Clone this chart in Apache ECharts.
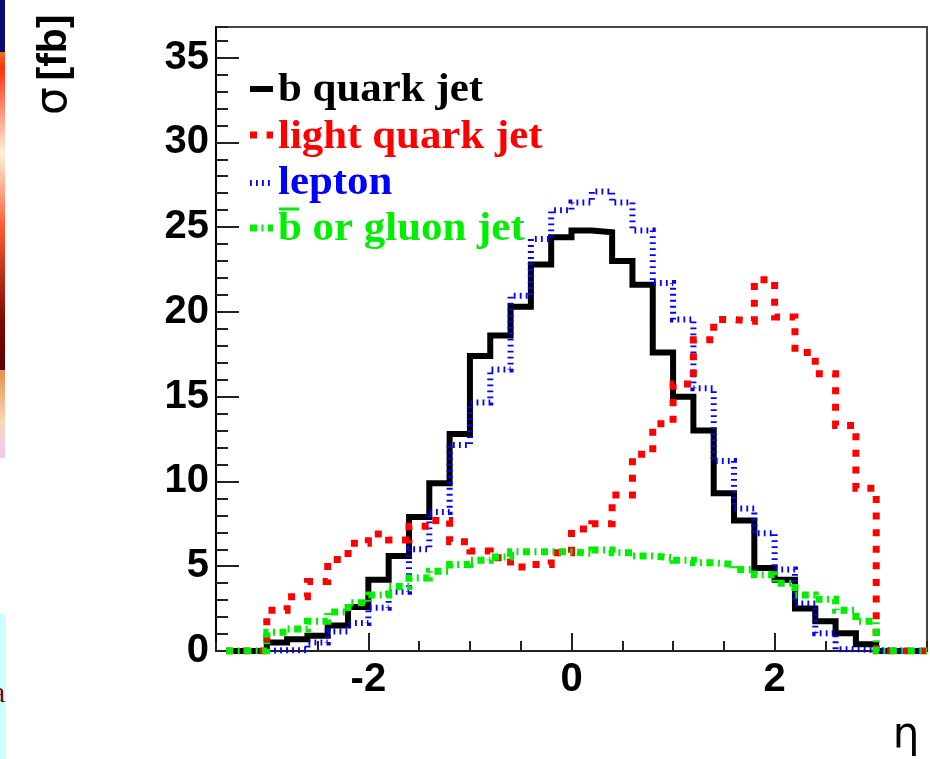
<!DOCTYPE html>
<html>
<head>
<meta charset="utf-8">
<title>Pseudorapidity distributions</title>
<script src="https://cdn.jsdelivr.net/npm/echarts@6.0.0/dist/echarts.min.js"></script>
<style>
  html, body { margin: 0; padding: 0; background: #ffffff; }
  #chart { width: 930px; height: 759px; }
</style>
</head>
<body>
<div id="chart"></div>
<script>
// Histogram bins in eta: lower edges, width 0.2, last bin closes at 3.0
const etaBinLow = [-3.0, -2.8, -2.6, -2.4, -2.2, -2.0, -1.8, -1.6, -1.4, -1.2,
                   -1.0, -0.8, -0.6, -0.4, -0.2, 0.0, 0.2, 0.4, 0.6, 0.8,
                   1.0, 1.2, 1.4, 1.6, 1.8, 2.0, 2.2, 2.4, 2.6, 2.8];
const etaUpper = 3.0;
// empty range drawn along the axis on both sides
const etaDrawFrom = -3.4;
const etaDrawTo = 3.5;

// cross sections per bin [fb]
const bQuarkJet = [0.5, 0.7, 0.9, 1.5, 2.6, 4.2, 5.6, 7.9, 9.9, 12.8,
                   17.4, 18.6, 20.3, 22.8, 24.4, 24.8, 24.7, 23.0, 21.6, 17.6,
                   15.0, 13.0, 9.3, 7.7, 4.9, 4.2, 2.5, 1.75, 1.05, 0.4];
const lightQuarkJet = [2.4, 3.2, 4.1, 5.4, 6.35, 6.9, 6.55, 7.35, 7.7, 6.45,
                       5.9, 5.5, 4.95, 5.1, 5.8, 7.2, 7.5, 9.2, 11.6, 13.4,
                       15.75, 18.35, 19.55, 19.45, 21.9, 19.7, 17.6, 16.35, 13.3, 9.6];
const lepton = [0.05, 0.05, 0.5, 1.15, 1.65, 2.55, 3.5, 6.0, 8.2, 12.15,
                14.65, 16.6, 20.95, 24.3, 26.0, 26.45, 27.1, 26.45, 24.8, 21.7,
                19.55, 15.5, 11.2, 8.4, 6.95, 4.8, 2.8, 1.05, 0.1, 0.05];
const bbarGluonJet = [1.1, 1.3, 1.75, 2.3, 2.85, 3.3, 3.8, 4.3, 4.7, 5.1,
                      5.35, 5.55, 5.85, 5.85, 5.85, 5.75, 5.95, 5.8, 5.6, 5.5,
                      5.35, 5.2, 5.1, 4.8, 4.5, 4.0, 3.3, 3.05, 2.4, 1.75];

// axis labels
const xTickLabels = [-2, 0, 2];
const yTickLabels = [0, 5, 10, 15, 20, 25, 30, 35];

const seriesNames = ['b quark jet', 'light quark jet', 'lepton', 'b or gluon jet'];

// line styles (ROOT-like solid / dotted / dashed / dash-dot)
const styleB     = { color: '#000000', width: 6, type: 'solid' };
const styleLight = { color: '#ff0000', width: 7, type: [7, 9.6] };
const styleLep   = { color: '#0000ff', width: 6, type: [1.8, 4.2] };
const styleGluon = { color: '#00ee00', width: 7, type: [7, 4.5, 2, 4.5] };

// step outline: [edge, value] pairs, drawn with step 'end'
function histPoints(values) {
  const pts = [[etaDrawFrom, 0]];
  for (let i = 0; i < etaBinLow.length; i++) pts.push([etaBinLow[i], values[i]]);
  pts.push([etaUpper, 0]);
  pts.push([etaDrawTo, 0]);
  return pts;
}

function histSeries(name, values, style, z) {
  return {
    name: name,
    type: 'line',
    step: 'end',
    data: histPoints(values),
    symbol: 'none',
    silent: true,
    z: z,
    lineStyle: { color: style.color, width: style.width, type: style.type, cap: 'butt', join: 'miter' }
  };
}

const chart = echarts.init(document.getElementById('chart'), null, { renderer: 'canvas' });

const tickFont = { fontFamily: '"Liberation Sans", Arial, sans-serif', fontWeight: 'bold', fontSize: 40, color: '#000' };
const legendFont = 'bold 39px "Liberation Serif", "Times New Roman", serif';
const legendRows = [
  { name: seriesNames[0], style: styleB, y: 89, textY: 91 },
  { name: seriesNames[1], style: styleLight, y: 135, textY: 138 },
  { name: seriesNames[2], style: styleLep, y: 183, textY: 184 },
  { name: seriesNames[3], style: styleGluon, y: 228, textY: 230 }
];

const graphics = [];
// legend
legendRows.forEach(function (row) {
  graphics.push({
    type: 'line', silent: true, z: 100,
    shape: { x1: 250, y1: row.y, x2: 273, y2: row.y },
    style: { stroke: row.style.color, lineWidth: row.style.width, lineDash: row.style.type === 'solid' ? null : row.style.type }
  });
  graphics.push({
    type: 'text', silent: true, z: 100,
    x: 278, y: row.textY, scaleX: 1.1,
    style: { text: row.name, font: legendFont, fill: row.style.color, align: 'left', verticalAlign: 'middle' }
  });
});
// bar over the b of the last legend entry
graphics.push({
  type: 'line', silent: true, z: 100,
  shape: { x1: 279, y1: 209, x2: 299, y2: 209 },
  style: { stroke: styleGluon.color, lineWidth: 3 }
});
// axis titles
graphics.push({
  type: 'text', silent: true, z: 100,
  x: 55, y: 115, rotation: Math.PI / 2,
  style: {
    text: '{s|σ}  {b|[fb]}',
    align: 'left', verticalAlign: 'middle',
    rich: {
      s: { font: '44px "DejaVu Sans", sans-serif', fill: '#000' },
      b: { font: 'bold 41px "Liberation Sans", Arial, sans-serif', fill: '#000' }
    }
  }
});
graphics.push({
  type: 'text', silent: true, z: 100,
  x: 906, y: 736,
  style: { text: 'η', font: '42px "DejaVu Sans", sans-serif', fill: '#000', align: 'center', verticalAlign: 'middle' }
});
// slide edge fragments at the left border
graphics.push({ type: 'rect', silent: true, shape: { x: 0, y: 0, width: 5, height: 52 }, style: { fill: '#0c0c70' } });
graphics.push({
  type: 'rect', silent: true, shape: { x: 0, y: 52, width: 5, height: 318 },
  style: {
    fill: new echarts.graphic.LinearGradient(0, 0, 0, 1, [
      { offset: 0.0, color: '#f07020' },
      { offset: 0.05, color: '#ff3010' },
      { offset: 0.32, color: '#fff2d8' },
      { offset: 0.55, color: '#ff5a30' },
      { offset: 0.85, color: '#7a0800' },
      { offset: 1.0, color: '#5a0000' }
    ])
  }
});
graphics.push({
  type: 'rect', silent: true, shape: { x: 0, y: 370, width: 5, height: 88 },
  style: {
    fill: new echarts.graphic.LinearGradient(0, 0, 0, 1, [
      { offset: 0, color: '#e89050' },
      { offset: 0.6, color: '#f8d8b8' },
      { offset: 1, color: '#f0c8f0' }
    ])
  }
});
graphics.push({ type: 'rect', silent: true, shape: { x: 0, y: 614, width: 5, height: 145 }, style: { fill: '#c8ffff' } });
graphics.push({
  type: 'text', silent: true, x: -8, y: 694,
  style: { text: 'a', font: '30px "Liberation Serif", serif', fill: '#8a0000', align: 'left', verticalAlign: 'middle' }
});

const option = {
  backgroundColor: '#ffffff',
  animation: false,
  grid: {
    left: 216, right: 3, top: 27, bottom: 108,
    show: true, borderColor: '#444', borderWidth: 2, backgroundColor: 'transparent'
  },
  xAxis: [
    {
      type: 'value', min: -3.5, max: 3.5, interval: 0.5,
      position: 'bottom',
      axisLine: { show: true, onZero: false, lineStyle: { color: '#222', width: 2 } },
      axisTick: { show: true, inside: true, length: 18, customValues: xTickLabels, lineStyle: { color: '#222', width: 2 } },
      axisLabel: Object.assign({ show: true, margin: 9, customValues: xTickLabels }, tickFont),
      splitLine: { show: false }
    },
    {
      type: 'value', min: -3.5, max: 3.5, interval: 0.5,
      position: 'bottom',
      axisLine: { show: false, onZero: false },
      axisTick: { show: true, inside: true, length: 10, lineStyle: { color: '#222', width: 2 } },
      axisLabel: { show: false },
      splitLine: { show: false }
    }
  ],
  yAxis: [
    {
      type: 'value', min: 0, max: 36.8, interval: 5,
      position: 'left',
      axisLine: { show: true, onZero: false, lineStyle: { color: '#000', width: 2 } },
      axisTick: { show: true, inside: true, length: 23, customValues: yTickLabels, lineStyle: { color: '#222', width: 2 } },
      axisLabel: Object.assign({ show: true, margin: 7, customValues: yTickLabels, padding: [0, 0, 11, 0] }, tickFont),
      splitLine: { show: false }
    },
    {
      type: 'value', min: 0, max: 36.8, interval: 1,
      position: 'left',
      axisLine: { show: false, onZero: false },
      axisTick: { show: true, inside: true, length: 12, lineStyle: { color: '#222', width: 2 } },
      axisLabel: { show: false },
      splitLine: { show: false }
    }
  ],
  series: [
    histSeries(seriesNames[0], bQuarkJet, styleB, 2),
    histSeries(seriesNames[2], lepton, styleLep, 3),
    histSeries(seriesNames[1], lightQuarkJet, styleLight, 4),
    histSeries(seriesNames[3], bbarGluonJet, styleGluon, 5)
  ],
  graphic: graphics
};

chart.setOption(option);
</script>
</body>
</html>
